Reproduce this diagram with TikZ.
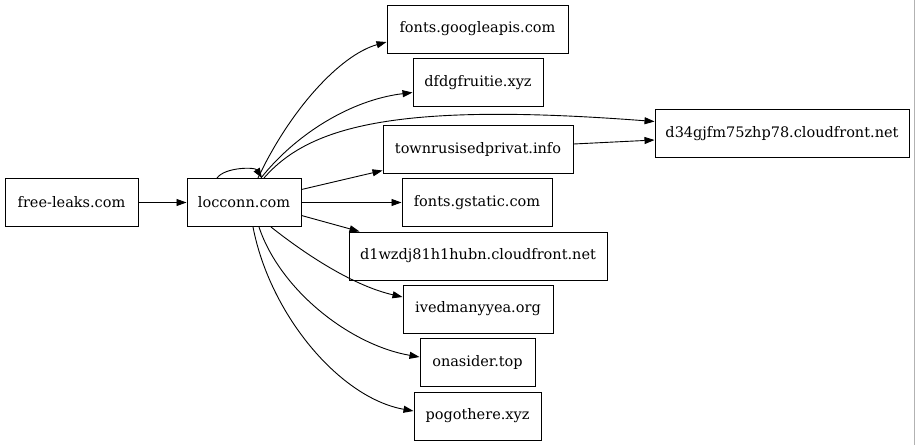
\documentclass[tikz,border=0pt]{standalone}
\usepackage{fontspec}
\setmainfont{DejaVu Serif}
\usetikzlibrary{arrows.meta}
\begin{document}
\begin{tikzpicture}[x=1pt,y=-1pt,
  box/.style={draw,line width=1pt,inner sep=0pt,minimum height=48pt,font=\fontsize{14.5}{16}\selectfont},
  edge/.style={line width=0.9pt,-{Triangle[length=10pt,width=7pt]}}]
\useasboundingbox (0,0) rectangle (915,445);
\fill[white] (0,0) rectangle (915,445);
\draw[gray!60,line width=1pt] (914.5,0) -- (914.5,445);
\node[box,minimum width=133pt] (fl) at (71.5,202.5) {free-leaks.com};
\node[box,minimum width=114pt] (loc) at (244,202.5) {locconn.com};
\node[box,minimum width=181pt] (goo) at (477.5,29) {fonts.googleapis.com};
\node[box,minimum width=130pt] (dfd) at (478,82.5) {dfdgfruitie.xyz};
\node[box,minimum width=254pt] (d34) at (782,133.5) {d34gjfm75zhp78.cloudfront.net};
\node[box,minimum width=190pt] (tow) at (478,149) {townrusisedprivat.info};
\node[box,minimum width=150pt] (gst) at (477,202.5) {fonts.gstatic.com};
\node[box,minimum width=258pt] (d1w) at (478,256) {d1wzdj81h1hubn.cloudfront.net};
\node[box,minimum width=150pt] (ive) at (478,309) {ivedmanyyea.org};
\node[box,minimum width=115pt] (ona) at (477.5,362) {onasider.top};
\node[box,minimum width=127pt] (pog) at (477.5,416) {pogothere.xyz};
\draw[edge] (fl) -- (loc);
\draw[edge] ([xshift=-27pt]loc.north) .. controls (225,167) and (255,167) .. ([xshift=18pt]loc.north);
\draw[edge] ([xshift=14pt]loc.north) .. controls (290,110) and (340,55) .. ([yshift=-13pt]goo.west);
\draw[edge] ([xshift=17pt]loc.north) .. controls (295,135) and (350,100) .. ([yshift=-10pt]dfd.west);
\draw[edge] ([xshift=20pt]loc.north) .. controls (310,125) and (400,102) .. ([yshift=12pt]d34.west);
\draw[edge] ([yshift=13pt]loc.east) -- ([yshift=3pt]tow.south west);
\draw[edge] ([yshift=5pt]tow.east) -- ([yshift=-6.5pt]d34.west);
\draw[edge] (loc.east) -- (gst.west);
\draw[edge] ([yshift=-13pt]loc.east) -- ([xshift=11pt]d1w.north west);
\draw[edge] ([xshift=27pt]loc.south) .. controls (300,250) and (350,285) .. ([yshift=12pt]ive.west);
\draw[edge] ([xshift=15pt]loc.south) .. controls (280,290) and (350,345) .. ([yshift=5pt]ona.west);
\draw[edge] ([xshift=9pt]loc.south) .. controls (270,315) and (340,398) .. ([yshift=5pt]pog.west);
\end{tikzpicture}
\end{document}
